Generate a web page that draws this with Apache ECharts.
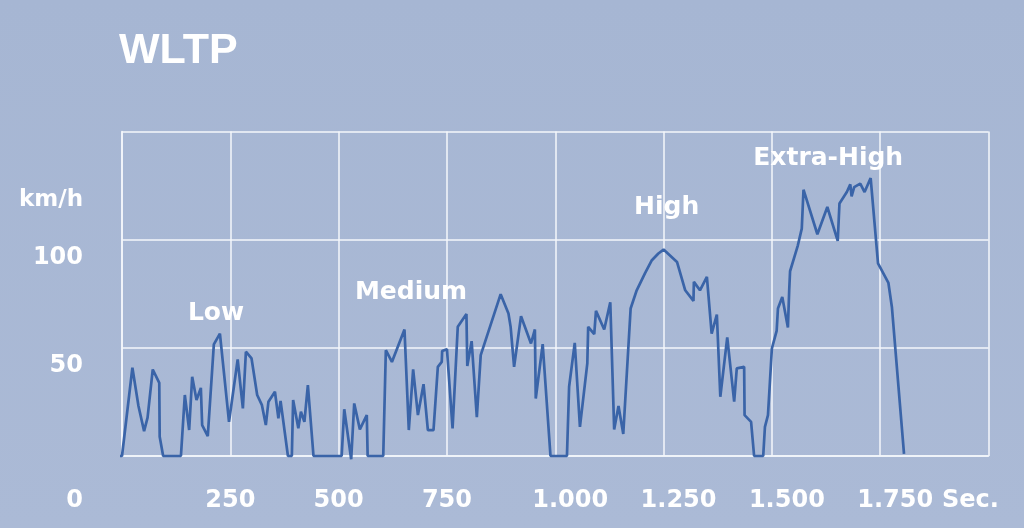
<!DOCTYPE html>
<html>
<head>
<meta charset="utf-8">
<script src="https://cdn.jsdelivr.net/npm/echarts@6/dist/echarts.min.js"></script>
<style>
html,body{margin:0;padding:0;background:#a8b8d4;}
#chart{width:1024px;height:528px;}
</style>
</head>
<body>
<div id="chart"></div>
<script>
// Time in seconds
var times = [-16,0,24,38,51,59,71,86,87,95,
  136,145,155,162,172,182,185,198,212,226,
  247,267,279,286,299,312,323,332,338,353,
  361,366,383,392,395,407,413,421,429,442,
  507,513,529,536,549,565,567,603,609,623,
  652,662,672,683,696,706,719,729,738,739,
  750,763,775,795,797,807,819,828,874,892,
  897,905,921,944,953,955,971,989,1027,1032,
  1045,1057,1074,1076,1090,1094,1113,1127,1136,1146,
  1157,1174,1188,1207,1223,1238,1250,1281,1300,1319,
  1320,1334,1350,1361,1373,1381,1397,1413,1419,1436,
  1437,1452,1459,1480,1484,1491,1500,1511,1514,1524,
  1537,1540,1542,1552,1560,1569,1573,1605,1628,1652,
  1656,1673,1681,1684,1690,1704,1714,1728,1745,1769,
  1777,1805];
// Speed in km/h
var speeds = [0,0,40.8,23.1,11.5,17.7,40.0,33.8,8.9,0,
  0,28.2,12.0,36.6,25.9,31.5,14.3,9.2,51.6,56.6,
  15.8,44.6,22.0,48.2,45.1,28.2,23.5,14.3,25.1,29.7,
  17.4,25.5,0,0,25.9,12.8,20.5,15.8,32.8,0,
  0,21.6,-1.5,24.3,12.3,18.9,0,0,48.9,43.5,
  58.5,12.0,40.0,18.9,33.2,12.0,12.0,41.2,43.5,48.5,
  49.4,12.8,59.7,65.6,41.6,53.1,17.9,46.6,74.8,65.9,
  59.7,41.2,64.6,52.0,58.5,26.6,51.7,0,0,32.0,
  52.3,13.5,42.8,59.7,56.3,67.1,58.5,71.0,12.3,23.1,
  10.2,68.2,76.6,84.4,90.5,93.6,95.4,89.7,76.6,71.7,
  80.5,76.6,82.8,56.6,65.4,27.4,54.8,25.1,40.5,41.2,
  18.9,15.8,0,0,13.5,18.9,49.7,57.8,68.2,73.5,
  59.4,76.6,85.4,92.0,97.4,105.1,123.1,102.5,115.1,99.4,
  116.7,122.0,125.6,120.0,124.3,125.9,122.0,128.5,89.0,80.0,
  68.9,1];
// Phase annotations (time, speed where the label sits)
var phaseNames = ['Low','Medium','High','Extra-High'];
var phaseTimes = [217, 667, 1257, 1630];
var phaseSpeeds = [66, 75.7, 115, 137.4];

var FONT = '"DejaVu Sans", sans-serif';

function fmtThousands(v){
  var s = String(v);
  if (v >= 1000) s = s.slice(0, s.length-3) + '.' + s.slice(s.length-3);
  return s;
}

var lineData = times.map(function(t,i){ return [t, speeds[i]]; });
var phaseData = phaseNames.map(function(n,i){ return [phaseTimes[i], phaseSpeeds[i], n]; });

var chart = echarts.init(document.getElementById('chart'), null, {renderer:'canvas'});
chart.setOption({
  backgroundColor: {
    type:'linear', x:0, y:0, x2:0, y2:1,
    colorStops:[{offset:0,color:'#a6b6d3'},{offset:1,color:'#abbad6'}]
  },
  animation:false,
  grid:{left:122, right:35.5, top:131.5, bottom:72},
  xAxis:{
    type:'value', min:0, max:2000, interval:250,
    axisLine:{show:true, lineStyle:{color:'#f4f7fb', width:1.5}},
    axisTick:{show:false},
    splitLine:{show:true, lineStyle:{color:'#f4f7fb', width:1.5}},
    axisLabel:{
      color:'#ffffff', fontFamily:FONT, fontWeight:'bold', fontSize:24, margin:33,
      showMinLabel:true, showMaxLabel:true,
      formatter:function(v){
        if (v === 0 || v === 2000) return '';
        if (v >= 1000) return '{k|' + fmtThousands(v) + '}';
        return fmtThousands(v);
      },
      rich:{k:{color:'#ffffff', fontFamily:FONT, fontWeight:'bold', fontSize:24, padding:[0,0,0,30]}}
    }
  },
  yAxis:{
    type:'value', min:0, max:150, interval:50,
    axisLine:{show:true, lineStyle:{color:'#f4f7fb', width:1.5}},
    axisTick:{show:false},
    splitLine:{show:true, lineStyle:{color:'#f4f7fb', width:1.5}},
    axisLabel:{
      color:'#ffffff', fontFamily:FONT, fontWeight:'bold', fontSize:24, margin:39,
      verticalAlign:'top', padding:[6,0,0,0],
      formatter:function(v){ return (v === 0 || v === 150) ? '' : String(v); }
    }
  },
  graphic:[
    {type:'text', left:119, top:30, style:{text:'WLTP', fill:'#ffffff', font:'bold 43px "Liberation Sans", Arial, sans-serif'}},
    {type:'text', right:1024-83, top:189, style:{text:'km/h', fill:'#ffffff', font:'bold 23px ' + FONT}},
    {type:'text', right:1024-83, top:489, style:{text:'0', fill:'#ffffff', font:'bold 24px ' + FONT}},
    {type:'text', left:942, top:489, style:{text:'Sec.', fill:'#ffffff', font:'bold 24px ' + FONT}}
  ],
  series:[
    {
      type:'line', data:lineData, showSymbol:false, clip:false,
      lineStyle:{color:'#3a64a8', width:2.7}, z:3
    },
    {
      type:'scatter', data:phaseData, symbolSize:0, z:4,
      itemStyle:{opacity:1},
      label:{show:true, position:'inside', color:'#ffffff', opacity:1, fontFamily:FONT, fontWeight:'bold', fontSize:25,
        formatter:function(p){ return p.data[2]; }}
    }
  ]
});
</script>
</body>
</html>
